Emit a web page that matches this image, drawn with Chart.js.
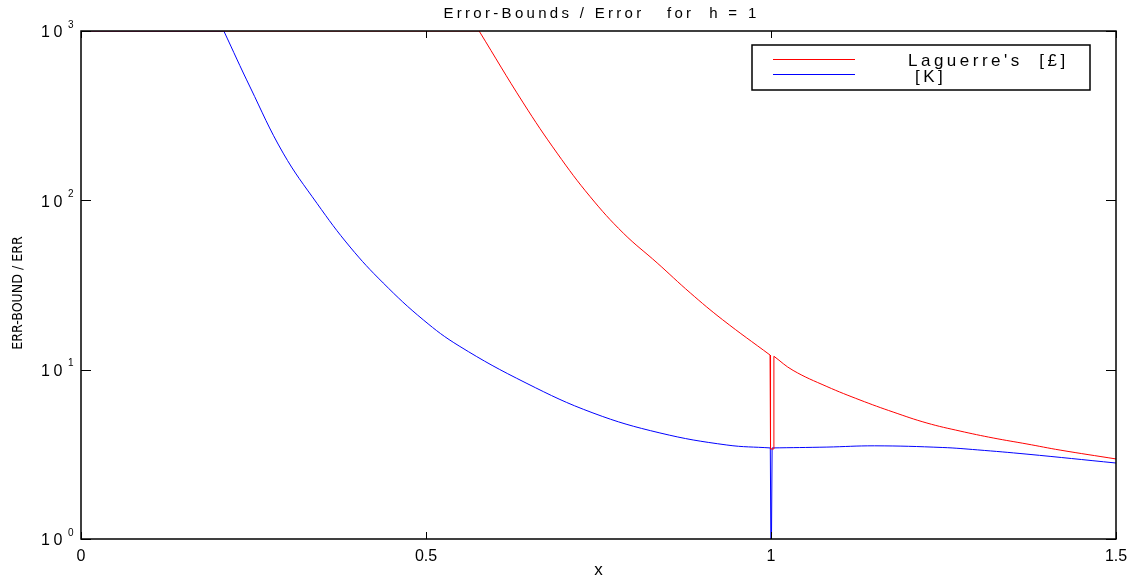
<!DOCTYPE html>
<html>
<head>
<meta charset="utf-8">
<script src="https://cdn.jsdelivr.net/npm/chart.js@4.4.1/dist/chart.umd.min.js"></script>
<style>
  html, body { margin: 0; padding: 0; background: #fff; }
  #wrap { width: 1130px; height: 575px; }
</style>
</head>
<body>
<div id="wrap"><canvas id="errChart"></canvas></div>
<script>
// Values (log y axis, clipped at 10^3 and 10^0).
// Each curve is split at its corners so the smooth parts can use a spline.
const laguerreCapX = [0, 0.577];
const laguerreCapY = [1000, 1000];
const laguerreLeftX = [0.577, 0.641, 0.690, 0.738, 0.786, 0.835, 0.883, 0.930, 0.9986];
const laguerreLeftY = [1000, 376, 190, 105, 64, 42.7, 28.4, 19.7, 12.2];
const laguerreDipX = [0.9986, 0.9993, 1.0035, 1.0042];
const laguerreDipY = [12.2, 3.4, 3.4, 12.0];
const laguerreRightX = [1.0042, 1.032, 1.081, 1.129, 1.177, 1.226, 1.274, 1.322, 1.371, 1.419, 1.5];
const laguerreRightY = [12.0, 9.9, 7.95, 6.62, 5.62, 4.84, 4.34, 3.95, 3.64, 3.35, 2.97];

const kCapX = [0, 0.207];
const kCapY = [1000, 1000];
const kLeftX = [0.207, 0.245, 0.293, 0.342, 0.390, 0.438, 0.496, 0.548, 0.645, 0.742, 0.839, 0.936, 0.999];
const kLeftY = [1000, 467, 190, 96, 53, 32.5, 19.7, 13.8, 8.34, 5.55, 4.23, 3.59, 3.45];
const kDipX = [0.999, 1.0002, 1.0012, 1.0016];
const kDipY = [3.45, 0.5, 0.5, 3.45];
const kRightX = [1.0016, 1.081, 1.15, 1.249, 1.299, 1.371, 1.5];
const kRightY = [3.45, 3.49, 3.55, 3.47, 3.36, 3.17, 2.81];

const xTicks = [0, 0.5, 1, 1.5];
const yTicks = [1, 10, 100, 1000];
const seriesLabels = ["Laguerre's  [\u00a3]", "[K]"];
const seriesColors = ['#ff0000', '#0000ff'];
const titleText = 'Error-Bounds / Error   for  h = 1';

const FONT = '"Liberation Sans", Arial, sans-serif';

function piece(xs, ys, color, tension) {
  return {
    data: xs.map((x, i) => ({ x: x, y: ys[i] })),
    borderColor: color,
    borderWidth: 1,
    showLine: true,
    pointRadius: 0,
    tension: tension,
  };
}

// matlab style box with inward ticks on all four sides, plus the 10^n labels and title
const boxTicks = {
  id: 'boxTicks',
  afterDatasetsDraw(chart) {
    const { ctx, chartArea: a, scales } = chart;
    ctx.save();
    ctx.strokeStyle = '#000';
    ctx.lineWidth = 1;
    ctx.beginPath();
    xTicks.forEach(v => {
      const px = Math.round(scales.x.getPixelForValue(v)) + 0.5;
      ctx.moveTo(px, a.bottom); ctx.lineTo(px, a.bottom - 7);
      ctx.moveTo(px, a.top); ctx.lineTo(px, a.top + 7);
    });
    yTicks.forEach(v => {
      const py = Math.round(scales.y.getPixelForValue(v)) + 0.5;
      ctx.moveTo(a.left, py); ctx.lineTo(a.left + 10, py);
      ctx.moveTo(a.right, py); ctx.lineTo(a.right - 10, py);
    });
    ctx.stroke();
    ctx.lineWidth = 1.5;
    ctx.strokeRect(a.left, a.top, a.right - a.left, a.bottom - a.top);

    // y tick labels: "10" with a raised exponent
    ctx.fillStyle = '#000';
    ctx.textBaseline = 'middle';
    ctx.textAlign = 'left';
    yTicks.forEach(v => {
      const py = scales.y.getPixelForValue(v);
      ctx.font = '16px ' + FONT;
      ctx.letterSpacing = '3.5px';
      ctx.fillText('10', a.left - 40, py + 2);
      ctx.font = '10px ' + FONT;
      ctx.letterSpacing = '0px';
      ctx.fillText(String(Math.round(Math.log10(v))), a.left - 13, py - 6);
    });

    // title
    ctx.font = '15px ' + FONT;
    ctx.letterSpacing = '3.3px';
    ctx.textAlign = 'center';
    ctx.fillText(titleText, (a.left + a.right) / 2 + 3, 14);
    ctx.letterSpacing = '0px';
    ctx.restore();
  }
};

const boxLegend = {
  id: 'boxLegend',
  afterDraw(chart, args, opts) {
    const ctx = chart.ctx;
    ctx.save();
    ctx.fillStyle = '#fff';
    ctx.fillRect(opts.left, opts.top, opts.width, opts.height);
    ctx.strokeStyle = '#000';
    ctx.lineWidth = 1.5;
    ctx.strokeRect(opts.left, opts.top, opts.width, opts.height);
    ctx.font = '17px ' + FONT;
    ctx.letterSpacing = '3.5px';
    ctx.textBaseline = 'middle';
    ctx.fillStyle = '#000';
    seriesLabels.forEach((label, i) => {
      const ly = opts.lineY[i] + 0.5;
      ctx.strokeStyle = seriesColors[i];
      ctx.lineWidth = 1;
      ctx.beginPath();
      ctx.moveTo(opts.left + 21, ly);
      ctx.lineTo(opts.left + 103, ly);
      ctx.stroke();
      ctx.fillText(label, opts.textX[i], opts.textY[i]);
    });
    ctx.letterSpacing = '0px';
    ctx.restore();
  }
};

new Chart(document.getElementById('errChart'), {
  type: 'scatter',
  data: {
    datasets: [
      piece(laguerreCapX, laguerreCapY, seriesColors[0], 0),
      piece(laguerreLeftX, laguerreLeftY, seriesColors[0], 0.4),
      piece(laguerreDipX, laguerreDipY, seriesColors[0], 0),
      piece(laguerreRightX, laguerreRightY, seriesColors[0], 0.4),
      piece(kCapX, kCapY, seriesColors[1], 0),
      piece(kLeftX, kLeftY, seriesColors[1], 0.4),
      piece(kDipX, kDipY, seriesColors[1], 0),
      piece(kRightX, kRightY, seriesColors[1], 0.4),
    ]
  },
  options: {
    responsive: true,
    maintainAspectRatio: false,
    animation: false,
    layout: { padding: { right: 14, top: 31, left: 0, bottom: 0 } },
    plugins: {
      legend: { display: false },
      tooltip: { enabled: false },
      title: { display: false },
      boxLegend: {
        left: 752, top: 45, width: 338, height: 45,
        lineY: [59, 74], textX: [908, 915], textY: [61, 77]
      }
    },
    scales: {
      x: {
        type: 'linear',
        min: 0,
        max: 1.5,
        afterBuildTicks: s => { s.ticks = xTicks.map(v => ({ value: v })); },
        afterFit: s => { s.height = 36; },
        grid: { display: false },
        border: { display: false },
        ticks: {
          padding: 0,
          color: '#000',
          maxRotation: 0,
          font: { family: FONT, size: 16 },
          callback: v => String(v)
        },
        title: {
          display: true,
          text: 'x',
          color: '#000',
          font: { family: FONT, size: 17, lineHeight: 0.6 },
          padding: 0
        }
      },
      y: {
        type: 'logarithmic',
        min: 1,
        max: 1000,
        afterBuildTicks: s => { s.ticks = yTicks.map(v => ({ value: v, major: true })); },
        afterFit: s => { s.width = 81; },
        grid: { display: false },
        border: { display: false },
        ticks: { display: false },
        title: {
          display: true,
          text: 'ERR-BOUND / ERR    ',
          color: '#000',
          font: { family: '"Liberation Sans Narrow", "DejaVu Sans Condensed", sans-serif', size: 14 },
          padding: { top: 10, bottom: 10 }
        }
      }
    }
  },
  plugins: [boxTicks, boxLegend]
});
</script>
</body>
</html>
